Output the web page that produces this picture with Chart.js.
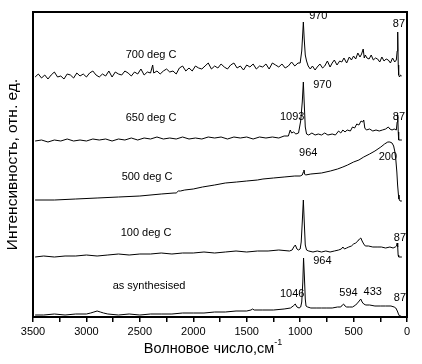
<!DOCTYPE html>
<html>
<head>
<meta charset="utf-8">
<script src="https://cdn.jsdelivr.net/npm/chart.js@4.4.1/dist/chart.umd.min.js"></script>
<style>
  html, body { margin: 0; padding: 0; background: #fff; }
  #wrap { width: 422px; height: 364px; }
</style>
</head>
<body>
<div id="wrap"><canvas id="ramanChart"></canvas></div>
<script>
// wavenumbers (cm-1) and intensities (arb. units, stacked offsets included)
const wn700 = [3480,3450,3420,3390,3360,3330,3300,3270,3240,3210,3180,3150,3120,3090,3060,3030,3000,2970,2940,2910,2880,2850,2820,2790,2760,2730,2700,2670,2640,2610,2580,2550,2520,2490,2460,2430,2400,
  2380,2370,
  2340,2310,2280,2250,2220,2190,2160,2130,2100,2070,2040,2010,1980,1950,1920,1890,1860,1830,1800,
  1770,1740,1710,1680,1650,1620,1590,1560,1530,1500,1470,1440,1410,1380,1350,1320,1290,1260,1230,1200,1170,1140,1110,1080,1050,1020,
  1000,985,975,970,962,952,940,925,
  905,885,860,840,815,790,770,745,720,700,680,655,630,610,590,565,540,520,500,480,460,440,425,410,400,390,375,355,335,315,295,275,255,235,215,195,175,155,135,115,100,
  92,87,82,78,70,60,50];
const int700 = [240,243,239,242,238,242,245,240,241,238,243,242,239,244,241,243,240,244,246,242,240,243,241,246,240,245,243,242,246,244,241,245,243,248,242,245,244,
  252,244,
  246,243,246,248,245,246,243,249,251,246,249,246,251,249,248,251,254,248,251,
  249,253,250,248,252,254,249,251,247,252,250,253,248,251,250,253,248,254,252,250,253,249,251,255,251,254,
  254,266,285,295,278,262,256,251,
  248,251,247,250,253,249,251,256,250,254,257,252,256,255,259,254,260,257,261,258,264,260,263,268,259,262,259,258,262,257,259,258,255,260,256,258,257,254,259,255,257,
  266,285,252,242,240,242,241];

const wn650 = [3480,3420,3360,3300,3240,3180,3120,3060,3000,2940,2880,2820,2760,2700,2640,2580,2520,2460,2400,2340,2280,2220,2160,2100,2040,1980,1920,1860,1800,1740,1680,1620,1560,1500,1440,1380,1320,1260,1200,1150,1110,1093,1080,1060,1040,1015,995,980,970,962,952,940,920,890,860,830,800,770,740,700,670,640,620,600,580,560,530,510,490,470,450,430,415,405,395,380,350,320,290,260,230,200,175,160,140,120,100,92,87,82,78,65,48];
const int650 = [176,177,175,177,176,178,176,177,176,178,177,178,176,178,177,179,177,179,178,180,178,179,178,180,178,179,178,180,179,180,178,180,179,180,178,180,179,180,179,181,181,187,184,185,183,184,196,215,235,214,190,183,182,184,182,183,182,184,182,183,182,186,184,187,185,187,186,190,189,193,192,196,195,197,189,187,188,186,187,186,187,188,190,188,187,188,187,195,202,185,177,177,177];

const wn500 = [3480,3300,3100,2900,2700,2500,2300,2180,2160,2140,2120,2080,2000,1914,1800,1700,1594,1500,1400,1348,1250,1150,1050,1000,980,970,964,958,950,900,800,717,650,600,556,500,450,405,350,300,245,210,180,160,140,125,115,105,95,88,80,75,65,48];
const int500 = [117,117,118,119,120,121,123,124,124,126,126,127,128,130,132,134,135,136,137,138,139,140,141,141,142,145,147,143,142,143,144,146,148,150,152,155,157,160,163,166,170,173,175,175,174,171,166,158,145,132,122,118,116,116];

const wn100 = [3480,3400,3300,3200,3100,3000,2900,2800,2700,2600,2500,2400,2300,2200,2100,2000,1900,1800,1700,1600,1500,1400,1300,1200,1100,1075,1060,1045,1030,1015,1000,990,980,970,962,952,940,920,880,840,800,760,720,680,640,615,600,585,565,545,520,500,480,460,445,432,420,405,390,360,320,280,240,200,160,130,110,98,92,87,83,78,65,48];
const int100 = [60,61,60,61,61,62,61,62,63,62,63,63,64,63,64,64,65,64,65,66,65,66,66,67,66,67,70,72,68,67,68,75,95,117,96,72,67,66,65,66,65,66,65,66,67,68,70,68,69,70,71,73,74,76,78,79,76,73,71,71,70,70,70,69,70,69,70,71,74,70,62,60,60,60];

const wnSyn = [3480,3400,3300,3200,3100,3000,2960,2930,2900,2870,2840,2800,2700,2600,2500,2400,2300,2200,2100,2000,1900,1800,1700,1600,1500,1460,1445,1430,1350,1250,1150,1090,1065,1046,1030,1010,995,985,975,968,960,952,945,930,900,850,800,750,700,650,620,605,594,580,565,540,510,480,455,440,433,420,405,385,350,300,250,200,150,120,105,95,87,80,70,55];
const intSyn = [2,2,3,2,3,3,4,5,6,5,4,3,2,3,2,3,3,3,4,4,4,5,5,6,6,7,8,7,7,7,8,9,11,13,10,9,10,15,35,59,40,18,11,10,9,9,9,9,9,10,10,12,13,11,10,10,10,12,15,17,18,15,13,12,12,11,11,11,11,10,9,7,5,3,1,1];

const xTicks = [0,250,500,750,1000,1250,1500,1750,2000,2250,2500,2750,3000,3250,3500];

// text labels: [text, wavenumber, intensity]
const notes = [
  ["700 deg C", 2395, 262], ["970", 830, 301], ["87", 75, 293],
  ["650 deg C", 2395, 199], ["970", 792, 232], ["1093", 1075, 200], ["87", 75, 200],
  ["500 deg C", 2433, 140], ["964", 924, 164], ["200", 179, 160],
  ["100 deg C", 2442, 84], ["87", 66, 79],
  ["as synthesised", 2414, 31], ["964", 792, 56], ["1046", 1075, 23],
  ["594", 547, 24], ["433", 321, 25], ["87", 66, 19]
];

const FONT = "'Liberation Sans', Arial, Helvetica, sans-serif";

function toPoints(xs, ys) {
  return xs.map((x, i) => ({ x: x, y: ys[i] }));
}

function trace(xs, ys) {
  return {
    data: toPoints(xs, ys),
    borderColor: '#000',
    borderWidth: 1,
    pointRadius: 0,
    tension: 0,
    fill: false
  };
}

const overlay = {
  id: 'overlay',
  afterDraw(chart) {
    const ctx = chart.ctx;
    const a = chart.chartArea;
    const xs = chart.scales.x, ys = chart.scales.y;
    ctx.save();
    ctx.strokeStyle = '#000';
    ctx.lineWidth = 2;
    ctx.strokeRect(a.left, a.top, a.right - a.left, a.bottom - a.top);

    ctx.fillStyle = '#000';
    ctx.font = '11px ' + FONT;
    ctx.textAlign = 'center';
    ctx.textBaseline = 'middle';
    notes.forEach(n => {
      ctx.fillText(n[0], xs.getPixelForValue(n[1]), ys.getPixelForValue(n[2]));
    });

    // x axis title with superscript
    const main = 'Волновое число,см';
    const sup = '-1';
    ctx.font = '14.5px ' + FONT;
    const w1 = ctx.measureText(main).width;
    ctx.font = '9px ' + FONT;
    const w2 = ctx.measureText(sup).width;
    const cx = 213, cy = 349;
    const x0 = cx - (w1 + w2) / 2;
    ctx.textAlign = 'left';
    ctx.font = '14.5px ' + FONT;
    ctx.fillText(main, x0, cy);
    ctx.font = '9px ' + FONT;
    ctx.fillText(sup, x0 + w1, cy - 6);
    ctx.restore();
  }
};

new Chart(document.getElementById('ramanChart').getContext('2d'), {
  type: 'line',
  data: {
    datasets: [
      trace(wn700, int700),
      trace(wn650, int650),
      trace(wn500, int500),
      trace(wn100, int100),
      trace(wnSyn, intSyn)
    ]
  },
  options: {
    responsive: true,
    maintainAspectRatio: false,
    animation: false,
    layout: { padding: { top: 12, right: 15, left: 0, bottom: 0 } },
    plugins: {
      legend: { display: false },
      tooltip: { enabled: false }
    },
    scales: {
      x: {
        type: 'linear',
        min: 0,
        max: 3500,
        reverse: true,
        afterBuildTicks: s => { s.ticks = xTicks.map(v => ({ value: v })); },
        afterFit: s => { s.height = 47; },
        ticks: {
          autoSkip: false,
          maxRotation: 0,
          padding: 3,
          color: '#000',
          font: { size: 11, family: FONT },
          callback: v => (v % 500 === 0 ? String(v) : '')
        },
        grid: { drawOnChartArea: false, drawTicks: true, tickLength: 5, color: '#000', lineWidth: 1.5 },
        border: { color: '#000', width: 2 }
      },
      y: {
        min: 0,
        max: 305,
        afterFit: s => { s.width = 33; },
        ticks: { display: false },
        grid: { display: false },
        border: { color: '#000', width: 2 },
        title: {
          display: true,
          text: 'Интенсивность, отн. ед.',
          color: '#000',
          font: { size: 15.5, family: FONT },
          padding: { top: 3, bottom: 0 }
        }
      }
    }
  },
  plugins: [overlay]
});
</script>
</body>
</html>
